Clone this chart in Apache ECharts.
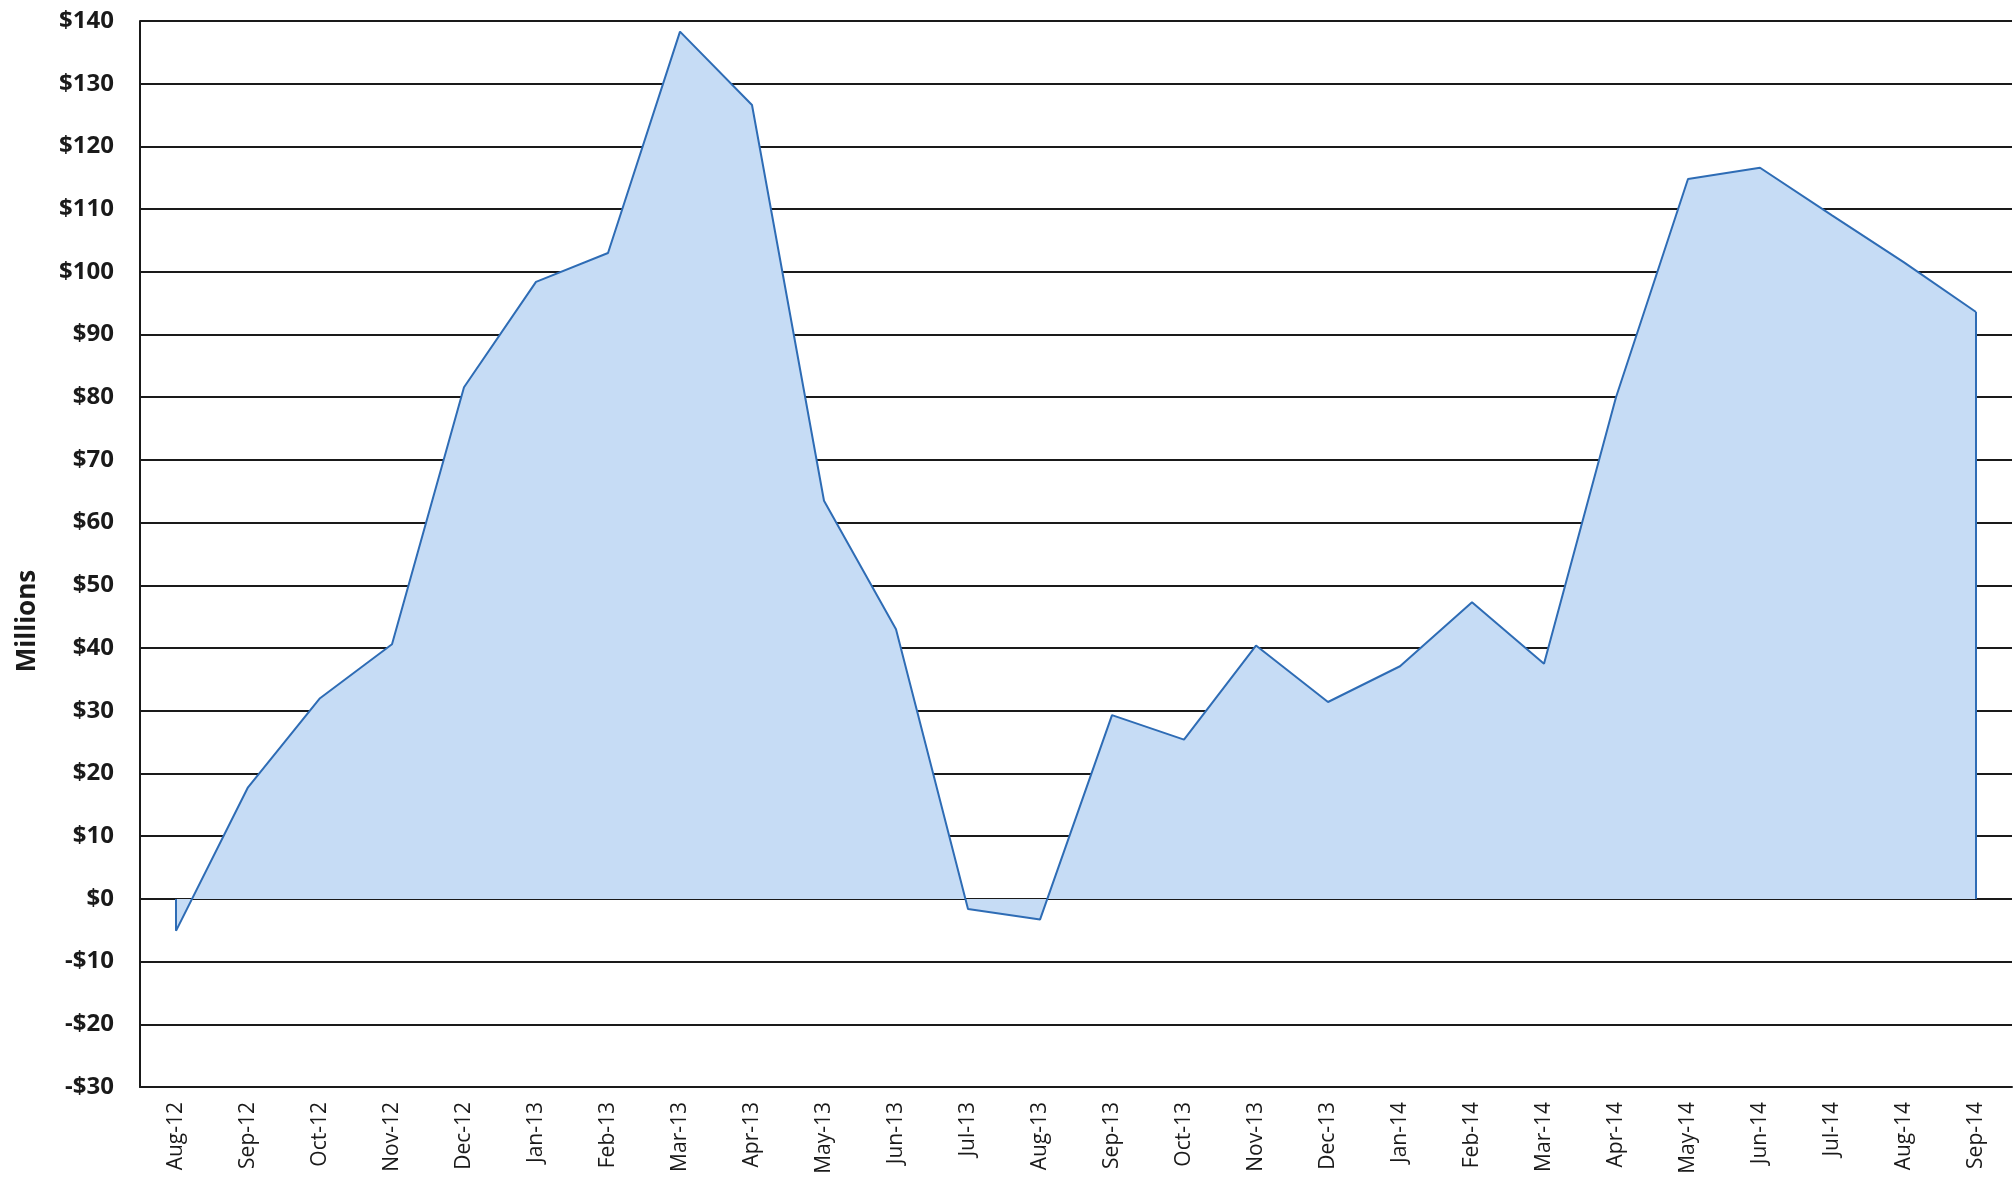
<!DOCTYPE html>
<html><head><meta charset="utf-8">
<script src="https://cdn.jsdelivr.net/npm/echarts@6/dist/echarts.min.js"></script>
<style>html,body{margin:0;padding:0;background:#fff}#c{width:2016px;height:1183px}</style>
</head><body><div id="c"></div>
<script>
const categories = ['Aug-12','Sep-12','Oct-12','Nov-12','Dec-12','Jan-13','Feb-13','Mar-13','Apr-13','May-13','Jun-13','Jul-13','Aug-13','Sep-13','Oct-13','Nov-13','Dec-13','Jan-14','Feb-14','Mar-14','Apr-14','May-14','Jun-14','Jul-14','Aug-14','Sep-14'];
const values = [-5.1, 17.8, 32, 40.6, 81.6, 98.4, 103, 138.3, 126.6, 63.5, 43, -1.6, -3.3, 29.3, 25.4, 40.4, 31.4, 37.1, 47.3, 37.5, 80, 114.8, 116.6, 109, 101.5, 93.6];
const yMin = -30, yMax = 140, yStep = 10;
const yTitle = 'Millions';

const first = categories[0], last = categories[categories.length - 1];
const chart = echarts.init(document.getElementById('c'));
chart.setOption({
  animation: false,
  backgroundColor: '#ffffff',
  grid: { left: 140, right: 4, top: 21, bottom: 96, containLabel: false },
  xAxis: {
    type: 'category', data: categories, boundaryGap: true,
    axisLine: { onZero: false, lineStyle: { color: '#1a1a1a', width: 2 } },
    axisTick: { show: false },
    axisLabel: { rotate: 90, interval: 0, margin: 15, color: '#1a1a1a', fontFamily: 'Open Sans', fontSize: 21 }
  },
  yAxis: {
    type: 'value', min: yMin, max: yMax, interval: yStep,
    axisLine: { show: true, lineStyle: { color: '#1a1a1a', width: 2 } },
    axisTick: { show: false },
    splitLine: { show: true, lineStyle: { color: '#1a1a1a', width: 2 } },
    axisLabel: { margin: 26, color: '#1a1a1a', fontFamily: 'Open Sans', fontWeight: 'bold', fontSize: 24,
      formatter: v => (v < 0 ? '-$' + Math.abs(v) : '$' + v) }
  },
  graphic: [{
    type: 'text', x: 28, y: 621, rotation: Math.PI / 2,
    style: { text: yTitle, fill: '#1a1a1a', font: 'bold 26px "Open Sans"', align: 'center', verticalAlign: 'middle' }
  }],
  series: [{
    type: 'line', data: values, symbol: 'none',
    lineStyle: { color: '#2e6cb5', width: 2 },
    areaStyle: { color: '#c6dcf5', opacity: 1, origin: 0 },
    z: 3,
    markLine: {
      silent: true, symbol: 'none', label: { show: false },
      lineStyle: { color: '#2e6cb5', width: 2, type: 'solid' },
      data: [
        [{ coord: [first, 0] }, { coord: [first, values[0]] }],
        [{ coord: [last, 0] }, { coord: [last, values[values.length - 1]] }]
      ]
    }
  }]
});
</script></body></html>
